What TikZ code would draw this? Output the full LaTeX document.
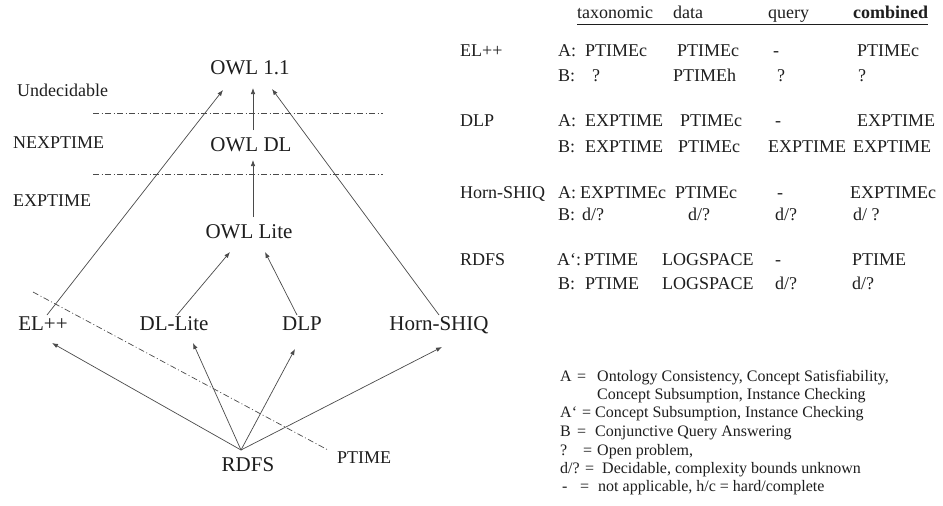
\documentclass[tikz,border=0pt]{standalone}
\usepackage{fontspec}
\setmainfont{Liberation Serif}
\usetikzlibrary{arrows.meta}
\definecolor{txt}{HTML}{1E1E1E}
\definecolor{ln}{HTML}{4A4A4A}
\newcommand\myfs[1]{\fontsize{#1}{#1}\selectfont}
\newcommand\cell[4]{\node[tb] (#1) at (#2,#3) {#4};}
\begin{document}
\begin{tikzpicture}[x=1pt,y=-1pt,
  every node/.style={inner sep=0pt, text=txt},
  big/.style={font=\myfs{21}, text height=.66em, text depth=0pt},
  lvl/.style={font=\myfs{18}, anchor=west, text height=.66em, text depth=0pt},
  tb/.style={font=\myfs{18}, anchor=west, text height=.66em, text depth=0pt},
  lg/.style={font=\myfs{16}, anchor=west, text height=.66em, text depth=0pt},
  arr/.style={draw=ln, line width=0.7pt, -{Latex[length=6pt,width=4.5pt]}},
  dd/.style={draw=ln, line width=0.7pt, dash pattern=on 6pt off 2.5pt on 1pt off 2.5pt}]
\useasboundingbox[fill=white] (0,0) rectangle (943,506);

% ---- hierarchy nodes
\node[big] (owl11)   at (250,71)  {OWL 1.1};
\node[big] (owldl)   at (251,148) {OWL DL};
\node[big] (owllite) at (249,235) {OWL Lite};
\node[big] (el)      at (43,327)  {EL++};
\node[big] (dllite)  at (174,327) {DL-Lite};
\node[big] (dlp)     at (302,327) {DLP};
\node[big] (horn)    at (439,327) {Horn-SHIQ};
\node[big] (rdfs)    at (248,468) {RDFS};

% ---- level labels
\node[lvl] (undec) at (17,93)  {Undecidable};
\node[lvl] (nexp)  at (13,145) {NEXPTIME};
\node[lvl] (exp)   at (13,203) {EXPTIME};
\node[lvl] (ptime) at (337,460) {PTIME};

% ---- dash-dot separators
\coordinate (s1a) at (93,113);  \coordinate (s1b) at (383,113);
\coordinate (s2a) at (93,174);  \coordinate (s2b) at (383,174);
\coordinate (s3a) at (33,292);  \coordinate (s3b) at (328,450);
\draw[dd] (s1a) -- (s1b);
\draw[dd] (s2a) -- (s2b);
\draw[dd] (s3a) -- (s3b);

% ---- arrows
\draw[arr] ([shift={(4,-12)}]el.center) -- ([shift={(-27,19)}]owl11.center);
\draw[arr] ([shift={(2,-18)}]owldl.center) -- ([shift={(3,17)}]owl11.center);
\draw[arr] ([shift={(0,-12)}]horn.center) -- ([shift={(22,18)}]owl11.center);
\draw[arr] ([shift={(4,-18)}]owllite.center) -- ([shift={(2,12)}]owldl.center);
\draw[arr] ([shift={(3,-12)}]dllite.center) -- ([shift={(-19,17)}]owllite.center);
\draw[arr] ([shift={(-5,-12)}]dlp.center) -- ([shift={(16,17)}]owllite.center);
\draw[arr] ([shift={(-7,-18)}]rdfs.center) -- ([shift={(9,16)}]el.center);
\draw[arr] ([shift={(-7,-18)}]rdfs.center) -- ([shift={(19,16)}]dllite.center);
\draw[arr] ([shift={(-7,-18)}]rdfs.center) -- ([shift={(-7,22)}]dlp.center);
\draw[arr] ([shift={(-7,-18)}]rdfs.center) -- ([shift={(3,20)}]horn.center);

% ---- table header
\cell{htax}{577}{15}{taxonomic}
\cell{hdata}{673}{15}{data}
\cell{hquery}{768}{15}{query}
\node[tb, font=\myfs{18}\bfseries] (hcomb) at (853,15) {combined};
\coordinate (ul1) at (577,24); \coordinate (ul2) at (928,24);
\draw[txt, line width=0.8pt] (ul1) -- (ul2);

% ---- EL++
\cell{tel}{460}{53}{EL++}
\cell{elA}{558}{53}{A:}
\cell{elA1}{585}{53}{PTIMEc}
\cell{elA2}{677}{53}{PTIMEc}
\cell{elA3}{773}{53}{-}
\cell{elA4}{857}{53}{PTIMEc}
\cell{elB}{558}{78}{B:}
\cell{elB1}{592}{78}{?}
\cell{elB2}{673}{78}{PTIMEh}
\cell{elB3}{777}{78}{?}
\cell{elB4}{858}{78}{?}

% ---- DLP
\cell{tdlp}{460}{123}{DLP}
\cell{dlpA}{558}{123}{A:}
\cell{dlpA1}{585}{123}{EXPTIME}
\cell{dlpA2}{680}{123}{PTIMEc}
\cell{dlpA3}{775}{123}{-}
\cell{dlpA4}{857}{123}{EXPTIME}
\cell{dlpB}{558}{149}{B:}
\cell{dlpB1}{585}{149}{EXPTIME}
\cell{dlpB2}{678}{149}{PTIMEc}
\cell{dlpB3}{768}{149}{EXPTIME}
\cell{dlpB4}{853}{149}{EXPTIME}

% ---- Horn-SHIQ
\cell{thorn}{460}{195}{Horn-SHIQ}
\cell{hoA}{558}{195}{A:}
\cell{hoA1}{580}{195}{EXPTIMEc}
\cell{hoA2}{675}{195}{PTIMEc}
\cell{hoA3}{777}{195}{-}
\cell{hoA4}{850}{195}{EXPTIMEc}
\cell{hoB}{558}{217}{B:}
\cell{hoB1}{582}{217}{d/?}
\cell{hoB2}{688}{217}{d/?}
\cell{hoB3}{775}{217}{d/?}
\cell{hoB4}{853}{217}{d/ ?}

% ---- RDFS
\cell{trdfs}{460}{262}{RDFS}
\cell{rdA}{557}{262}{A‘:}
\cell{rdA1}{584}{262}{PTIME}
\cell{rdA2}{662}{262}{LOGSPACE}
\cell{rdA3}{775}{262}{-}
\cell{rdA4}{852}{262}{PTIME}
\cell{rdB}{558}{286}{B:}
\cell{rdB1}{585}{286}{PTIME}
\cell{rdB2}{662}{286}{LOGSPACE}
\cell{rdB3}{775}{286}{d/?}
\cell{rdB4}{852}{286}{d/?}

% ---- legend
\node[lg] (lgA)   at (560,378) {A};
\node[lg] (lgAe)  at (577,378) {=};
\node[lg] (lgAt)  at (597,378) {Ontology Consistency, Concept Satisfiability,};
\node[lg] (lgAt2) at (597,396) {Concept Subsumption, Instance Checking};
\node[lg] (lgP)   at (560,414) {A‘};
\node[lg] (lgPt)  at (582,414) {= Concept Subsumption, Instance Checking};
\node[lg] (lgB)   at (560,433) {B};
\node[lg] (lgBe)  at (577,433) {=};
\node[lg] (lgBt)  at (595,433) {Conjunctive Query Answering};
\node[lg] (lgQ)   at (560,452) {?};
\node[lg] (lgQe)  at (583,452) {=};
\node[lg] (lgQt)  at (597,452) {Open problem,};
\node[lg] (lgD)   at (560,470) {d/?};
\node[lg] (lgDe)  at (585,470) {=};
\node[lg] (lgDt)  at (602,470) {Decidable, complexity bounds unknown};
\node[lg] (lgM)   at (562,488) {-};
\node[lg] (lgMe)  at (580,488) {=};
\node[lg] (lgMt)  at (598,488) {not applicable, h/c = hard/complete};
\end{tikzpicture}
\end{document}
